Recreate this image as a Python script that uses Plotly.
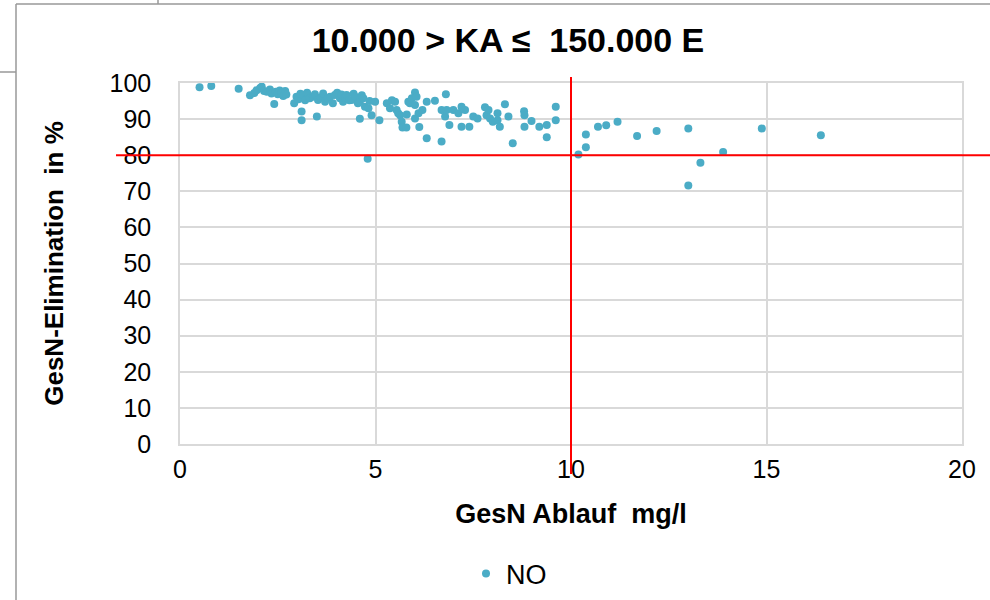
import plotly.graph_objects as go

# Data: GesN Ablauf (mg/l) vs GesN-Elimination (%)
gesn_ablauf = [
    0.50, 0.80, 1.50,
    1.79, 1.90, 1.96, 2.05, 2.09, 2.15, 2.22, 2.30, 2.34, 2.41, 2.45, 2.50, 2.55, 2.60, 2.64, 2.69, 2.72,
    2.92, 2.98, 3.03, 3.08, 3.11, 3.11, 3.15, 3.20, 3.25, 3.32, 3.40, 3.45, 3.50, 3.53, 3.60, 3.66, 3.71,
    3.78, 3.84, 3.91, 3.96, 4.02, 4.09, 4.13, 4.17, 4.22, 4.26, 4.33, 4.39, 4.44, 4.48, 4.55, 4.60, 4.60,
    4.65, 4.69, 4.73, 4.80, 4.82, 4.85, 4.90, 4.99, 5.10,
    5.29, 5.37, 5.42, 5.50, 5.54, 5.58, 5.63, 5.67, 5.69, 5.79, 5.80, 5.84, 5.88, 5.93, 6.01, 6.01, 6.01,
    6.05, 6.10, 6.12, 6.20, 6.31, 6.31, 6.52, 6.69, 6.69, 6.80, 6.78, 6.82, 6.89, 6.99, 7.12, 7.20, 7.20,
    7.29, 7.40, 7.50, 7.61, 7.80, 7.84, 7.89, 7.93, 8.00, 8.12, 8.12, 8.18, 8.31, 8.40, 8.51, 8.80, 8.81,
    8.81, 8.99, 9.19, 9.38, 9.38, 9.61, 9.61,
    10.19, 10.38, 10.38, 10.69, 10.90, 11.19, 11.69, 12.19, 13.00, 13.00, 13.31, 13.89, 14.88, 16.39,
]
gesn_elimination = [
    98.8, 99.2, 98.4,
    96.6, 97.2, 98.0, 98.6, 99.0, 97.8, 97.6, 98.2, 97.1, 94.2, 97.6, 96.9, 97.9, 97.4, 96.4, 97.8, 96.8,
    94.4, 96.2, 95.5, 97.0, 92.1, 89.7, 96.7, 95.2, 97.3, 95.8, 96.2, 96.9, 90.7, 95.3, 96.0, 97.1, 94.8,
    95.8, 96.2, 94.4, 96.7, 97.3, 95.8, 96.8, 94.8, 95.9, 96.7, 95.2, 95.3, 97.0, 96.2, 94.4, 94.8, 90.1,
    96.6, 95.8, 93.4, 79.0, 93.0, 95.0, 91.1, 94.8, 89.7,
    94.4, 93.0, 95.2, 94.8, 92.5, 91.6, 91.1, 89.3, 87.7, 87.7, 91.3, 94.8, 94.4, 95.8, 97.4, 93.9, 90.2,
    96.2, 91.6, 87.8, 92.5, 94.8, 84.7, 95.1, 83.8, 92.5, 96.9, 90.7, 92.5, 88.4, 92.5, 91.6, 93.4, 87.9,
    92.5, 87.9, 90.7, 90.2, 93.3, 91.1, 92.5, 90.2, 89.3, 91.6, 89.7, 87.9, 94.1, 90.7, 83.3, 92.2, 91.1,
    87.9, 89.5, 87.9, 88.4, 85.0, 93.4, 89.7,
    80.2, 82.2, 85.7, 87.9, 88.3, 89.3, 85.3, 86.7, 87.4, 71.6, 77.9, 80.9, 87.4, 85.5,
]
series_name = "NO"
x_ticks = [0, 5, 10, 15, 20]
y_ticks = [0, 10, 20, 30, 40, 50, 60, 70, 80, 90, 100]
threshold_x = 10
threshold_y = 80

# Plot area in pixels
L, R, T, B = 180, 962, 83, 444
W, H = 990, 600


def px(xp):
    return (xp - L) / (R - L)


def py(yp):
    return (B - yp) / (B - T)


fig = go.Figure()
fig.add_trace(go.Scatter(
    x=gesn_ablauf, y=gesn_elimination, mode="markers", name=series_name,
    marker=dict(color="#4BACC6", size=8, line=dict(width=0)),
    showlegend=True,
))

frame_col = "#999999"
shapes = [
    # outer frame
    dict(type="line", xref="paper", yref="paper", x0=px(16), x1=px(16), y0=py(4), y1=py(600),
         line=dict(color=frame_col, width=1.5)),
    dict(type="line", xref="paper", yref="paper", x0=px(16), x1=px(990), y0=py(4), y1=py(4),
         line=dict(color=frame_col, width=1.5)),
    dict(type="line", xref="paper", yref="paper", x0=px(158), x1=px(158), y0=py(0), y1=py(4),
         line=dict(color=frame_col, width=1.5)),
    dict(type="line", xref="paper", yref="paper", x0=px(0), x1=px(16), y0=py(72), y1=py(72),
         line=dict(color=frame_col, width=1.5)),
    # red threshold lines
    dict(type="line", xref="x", yref="paper", x0=threshold_x, x1=threshold_x, y0=py(474), y1=py(77),
         line=dict(color="#FF0000", width=2)),
    dict(type="line", xref="paper", yref="y", x0=px(116), x1=px(990), y0=threshold_y, y1=threshold_y,
         line=dict(color="#FF0000", width=2)),
]

font_family = "Liberation Sans, Arial, sans-serif"

fig.update_layout(
    width=W, height=H,
    margin=dict(l=L, r=W - R, t=T, b=H - B, autoexpand=False),
    paper_bgcolor="white", plot_bgcolor="white",
    font=dict(family=font_family, color="#000000"),
    title=dict(text="<b>10.000 > KA ≤ \u00a0150.000 E</b>", x=508 / W, xanchor="center",
               y=1 - 40 / H, yanchor="middle", yref="container",
               font=dict(size=34, color="#000000", family=font_family)),
    xaxis=dict(range=[0, 20], tickvals=x_ticks, ticktext=[str(v) for v in x_ticks],
               showgrid=True, gridcolor="#D9D9D9", gridwidth=1.5,
               showline=True, linecolor="#D9D9D9", linewidth=1.5, mirror=True,
               zeroline=False, ticks="", tickfont=dict(size=25, color="#000000"),
               ticklabelstandoff=2,
               title=dict(text="<b>GesN Ablauf  mg/l</b>", standoff=22,
                          font=dict(size=27, color="#000000"))),
    yaxis=dict(range=[0, 100], tickvals=y_ticks, ticktext=[str(v) for v in y_ticks],
               showgrid=True, gridcolor="#D9D9D9", gridwidth=1.5,
               showline=True, linecolor="#D9D9D9", linewidth=1.5, mirror=True,
               zeroline=False, ticks="", tickfont=dict(size=25, color="#000000"),
               ticklabelstandoff=22,
               title=dict(text="<b>GesN-Elimination  in %</b>", standoff=38,
                          font=dict(size=26, color="#000000"))),
    legend=dict(orientation="h", x=px(466), xanchor="left", y=py(574), yanchor="middle",
                font=dict(size=27, color="#000000"), bgcolor="rgba(0,0,0,0)",
                itemwidth=30),
    shapes=shapes,
)

fig.write_html("out.html")
